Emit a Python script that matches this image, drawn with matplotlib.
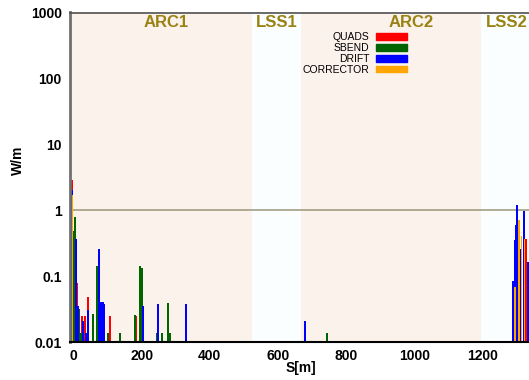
import matplotlib
matplotlib.use("Agg")
import matplotlib.pyplot as plt
from matplotlib.patches import Patch
import matplotlib.transforms as mtransforms

plt.rcParams['font.family'] = ['Liberation Sans', 'DejaVu Sans']

# ---- data ----
quad_s = [-3, 9, 25, 35, 43, 107, 184, 1328]
quad_v = [2.9, 0.078, 0.024, 0.024, 0.048, 0.024, 0.024, 0.36]

sbend_s = [2, 5, 15, 21, 57, 68, 70, 102, 136, 180, 195, 200, 245, 259, 276, 282, 745]
sbend_v = [0.49, 0.78, 0.031, 0.0128, 0.0255, 0.082, 0.139, 0.0128, 0.0125,
           0.025, 0.14, 0.13, 0.0125, 0.0125, 0.0378, 0.0125, 0.0126]

drift_s = [-5, 8, 12, 28, 38, 43, 75, 81, 86, 90, 204, 249, 330, 679,
           1288, 1295, 1298, 1302, 1312, 1321, 1333]
drift_v = [2.0, 0.36, 0.034, 0.0196, 0.0125, 0.030, 0.26, 0.0395, 0.0395, 0.0365,
           0.0344, 0.0365, 0.0365, 0.020, 0.082, 0.355, 0.585, 1.21, 0.257, 0.98, 0.16]

corr_s = [-2, 1295, 1307, 1313, 1322]
corr_v = [1.7, 0.068, 0.71, 0.40, 0.37]

region_names = ['ARC1', 'LSS1', 'ARC2', 'LSS2']
region_start = [-10, 523, 668, 1195]
region_end = [523, 668, 1195, 1400]
region_label_s = [272, 597, 990, 1270]

ytick_vals = [0.01, 0.1, 1, 10, 100, 1000]
ytick_labels = ['0.01', '0.1', '1', '10', '100', '1000']
xtick_vals = [0, 200, 400, 600, 800, 1000, 1200]
xtick_labels = ['0', '200', '400', '600', '800', '1000', '1200']

# ---- style ----
ARC_COLOR = '#faf2eb'
LSS_COLOR = '#fafefe'
LABEL_COLOR = '#9a8212'
BAR_W = 6

fig = plt.figure(figsize=(5.29, 3.80), dpi=100)
ax = fig.add_axes([70 / 529, 38 / 380, 459 / 529, 329.5 / 380])

for name, a, b in zip(region_names, region_start, region_end):
    ax.axvspan(a, b, color=ARC_COLOR if name.startswith('ARC') else LSS_COLOR,
               lw=0, zorder=0)

trans = mtransforms.blended_transform_factory(ax.transData, ax.transAxes)
for name, s in zip(region_names, region_label_s):
    ax.text(s, 0.97, name, transform=trans, ha='center', va='center',
            fontsize=12, fontweight='bold', color=LABEL_COLOR, zorder=5)

ax.axhline(1, color='#a39d84', lw=1.2, zorder=1)

ax.bar(quad_s, quad_v, width=BAR_W, bottom=1e-3, color='#ff0000', lw=0, zorder=2)
ax.bar(sbend_s, sbend_v, width=BAR_W, bottom=1e-3, color='#006400', lw=0, zorder=2)
ax.bar(drift_s, drift_v, width=BAR_W, bottom=1e-3, color='#0000ff', lw=0, zorder=2)
ax.bar(corr_s, corr_v, width=BAR_W * 0.6, bottom=1e-3, color='#ffa500', lw=0, zorder=2)

ax.set_yscale('log')
ax.set_ylim(0.01, 1000)
ax.set_xlim(-10, 1336)
ax.set_yticks(ytick_vals)
ax.set_yticklabels(ytick_labels)
ax.minorticks_off()
ax.set_xticks(xtick_vals)
ax.set_xticklabels(xtick_labels)
ax.tick_params(axis='both', length=0, labelsize=10)
ax.tick_params(axis='y', pad=6)
ax.tick_params(axis='x', pad=5)
for lab in ax.get_xticklabels() + ax.get_yticklabels():
    lab.set_fontweight('bold')

ax.spines['right'].set_visible(False)
ax.spines['left'].set_color('#707070')
ax.spines['left'].set_linewidth(2)
ax.spines['top'].set_color('#505050')
ax.spines['top'].set_linewidth(1.2)
ax.spines['bottom'].set_color('black')
ax.spines['bottom'].set_linewidth(1.5)

ax.set_ylabel('W/m', fontsize=10, fontweight='bold')
ax.yaxis.set_label_coords(-0.098, 0.55)
ax.set_xlabel('S[m]', fontsize=10, fontweight='bold')
ax.xaxis.set_label_coords(0.503, -0.058)

handles = [Patch(color='#ff0000', label='QUADS'),
           Patch(color='#006400', label='SBEND'),
           Patch(color='#0000ff', label='DRIFT'),
           Patch(color='#ffa500', label='CORRECTOR')]
leg = ax.legend(handles=handles, loc='upper right', bbox_to_anchor=(0.734, 0.94),
                frameon=False, markerfirst=False, fontsize=7.5, handlelength=3.0,
                handleheight=0.6, handletextpad=0.6, labelspacing=0.08,
                borderpad=0, borderaxespad=0)

fig.savefig('out.png', dpi=100)
